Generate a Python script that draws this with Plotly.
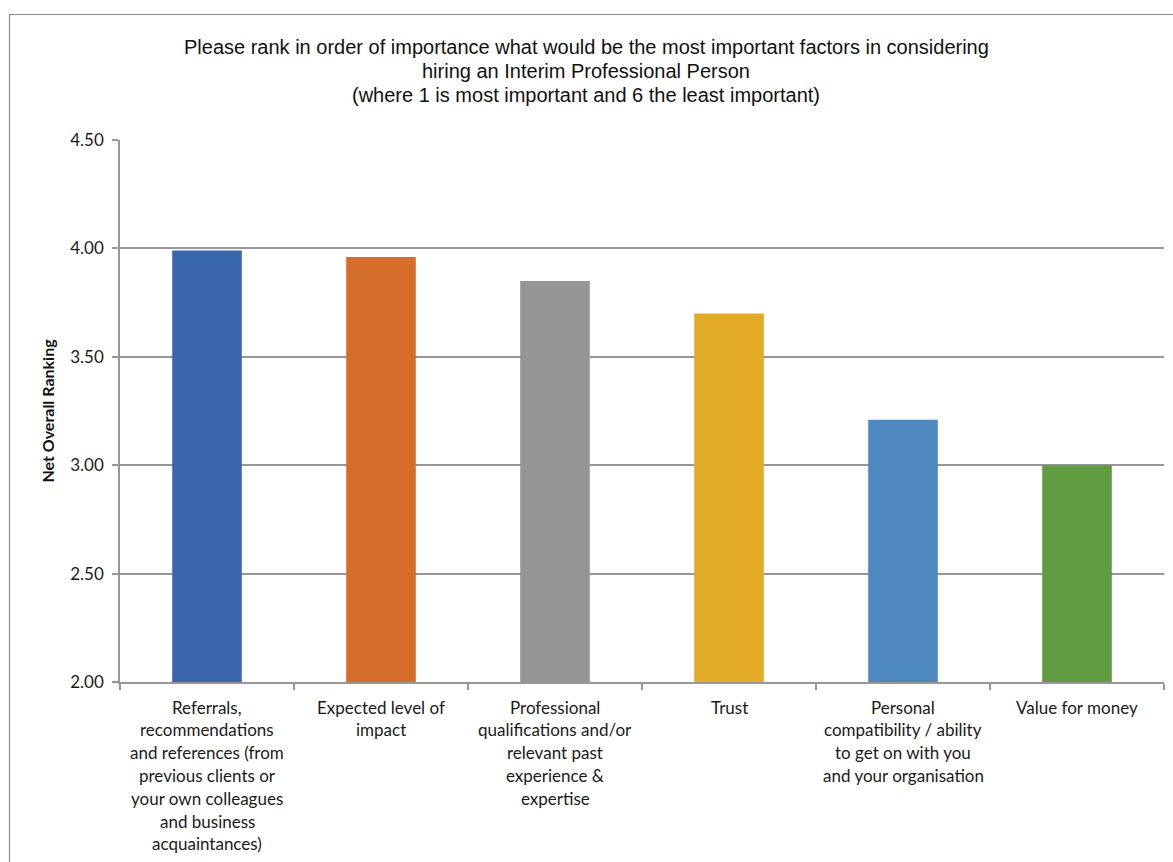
import plotly.graph_objects as go

# Survey factors, mean net ranking and bar colours
categories = [
    "Referrals,<br>recommendations<br>and references (from<br>previous clients or<br>your own colleagues<br>and business<br>acquaintances)",
    "Expected level of<br>impact",
    "Professional<br>qualifications and/or<br>relevant past<br>experience &<br>expertise",
    "Trust",
    "Personal<br>compatibility / ability<br>to get on with you<br>and your organisation",
    "Value for money",
]
rankings = [3.99, 3.96, 3.85, 3.70, 3.21, 3.00]
bar_colors = ["#3A66AE", "#D66E2B", "#959595", "#E1AB28", "#4F88BE", "#629C42"]
y_ticks = [2.0, 2.5, 3.0, 3.5, 4.0, 4.5]

title_lines = [
    "Please rank in order of importance what would be the most important factors in considering",
    "hiring an Interim Professional Person",
    "(where 1 is most important and 6 the least important)",
]

W, H = 1173, 862
ML, MR, MT, MB = 120, 9, 140, 180
PW, PH = W - ML - MR, H - MT - MB

def px_x(px):
    return (px - ML) / PW

def px_y(py):
    return (H - MB - py) / PH

ids = list(range(len(categories)))

fig = go.Figure(
    go.Bar(
        x=ids,
        y=rankings,
        marker=dict(color=bar_colors, line=dict(width=0)),
        width=0.4,
        hoverinfo="skip",
    )
)

grid_col = "#979797"
label_font = dict(family="Lato, Carlito, sans-serif", size=17, color="#1a1a1a")

annotations = []
# Multi-line category labels under the axis
for i, label in enumerate(categories):
    for j, line in enumerate(label.split("<br>")):
        annotations.append(dict(
            x=i, xref="x", y=0, yref="paper",
            text=line, showarrow=False, xanchor="center", yanchor="middle",
            yshift=-(25 + 22.8 * j), font=label_font,
        ))

# Chart heading
for j, line in enumerate(title_lines):
    annotations.append(dict(
        x=px_x(586), xref="paper", y=px_y(47 + 24 * j), yref="paper",
        text=line, showarrow=False, xanchor="center", yanchor="middle",
        font=dict(family="Liberation Sans, Arial, sans-serif", size=20, color="#111111"),
    ))

fig.update_layout(
    width=W, height=H,
    margin=dict(l=ML, r=MR, t=MT, b=MB, pad=0),
    paper_bgcolor="white", plot_bgcolor="white",
    showlegend=False,
    annotations=annotations,
    shapes=[dict(
        type="rect", xref="paper", yref="paper",
        x0=px_x(9.5), x1=px_x(1190), y0=px_y(900), y1=px_y(14.5),
        line=dict(color="#8A8A8A", width=1.2), fillcolor="rgba(0,0,0,0)", layer="below",
    )],
    xaxis=dict(
        type="linear", range=[-0.5, len(categories) - 0.5],
        tickmode="array", tickvals=[i - 0.5 for i in range(len(categories) + 1)],
        showticklabels=False, ticks="outside", ticklen=6, tickcolor=grid_col, tickwidth=1.5,
        showline=True, linecolor=grid_col, linewidth=1.5, showgrid=False, zeroline=False,
        fixedrange=True,
    ),
    yaxis=dict(
        range=[2.0, 4.5], tickmode="array", tickvals=y_ticks,
        ticktext=[f"{v:.2f}" for v in y_ticks],
        tickfont=label_font, ticks="outside", ticklen=6, tickcolor=grid_col, tickwidth=1.5,
        ticklabelstandoff=5,
        showline=True, linecolor=grid_col, linewidth=1.5,
        showgrid=True, gridcolor=grid_col, gridwidth=1.5, zeroline=False,
        title=dict(text="<b>Net Overall Ranking</b>", standoff=12,
                   font=dict(family="Lato, Carlito, sans-serif", size=16, color="#111111")),
        fixedrange=True,
    ),
)

fig.write_html("out.html", config={"displayModeBar": False})
